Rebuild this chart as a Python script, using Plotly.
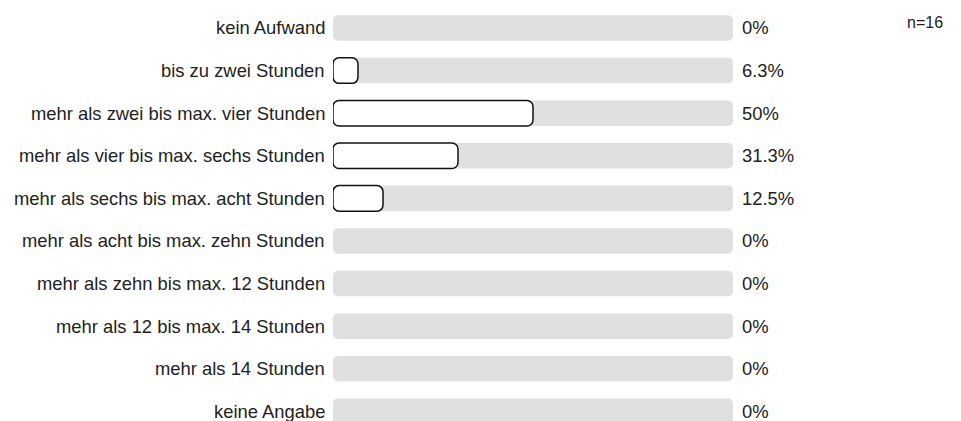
import plotly.graph_objects as go

categories = [
    "kein Aufwand",
    "bis zu zwei Stunden",
    "mehr als zwei bis max. vier Stunden",
    "mehr als vier bis max. sechs Stunden",
    "mehr als sechs bis max. acht Stunden",
    "mehr als acht bis max. zehn Stunden",
    "mehr als zehn bis max. 12 Stunden",
    "mehr als 12 bis max. 14 Stunden",
    "mehr als 14 Stunden",
    "keine Angabe",
]
percent_values = [0, 6.25, 50, 31.25, 12.5, 0, 0, 0, 0, 0]
percent_labels = ["0%", "6.3%", "50%", "31.3%", "12.5%", "0%", "0%", "0%", "0%", "0%"]
n_total = 16

FONT = "Liberation Sans, Arial, Helvetica, sans-serif"
ypos = list(range(len(categories)))
BAR_W = 0.6

full = [100] * len(categories)
vals = [v if v > 0 else None for v in percent_values]
zero_base = [0] * len(categories)

fig = go.Figure()
fig.add_trace(go.Bar(
    y=ypos, x=full, base=zero_base, orientation="h", width=BAR_W,
    marker=dict(color="#e0e0e0", line=dict(width=0), cornerradius=5),
    hoverinfo="skip", showlegend=False,
))
fig.add_trace(go.Bar(
    y=ypos, x=vals, base=zero_base, orientation="h", width=BAR_W,
    marker=dict(color="white", line=dict(color="#111111", width=1.5), cornerradius=6),
    hoverinfo="skip", showlegend=False,
))

annotations = []
for i, (cat, lab) in enumerate(zip(categories, percent_labels)):
    annotations.append(dict(x=0, y=i, xref="x", yref="y", text=cat, showarrow=False,
                            xanchor="right", xshift=-6, font=dict(size=18.4, color="#222", family=FONT)))
    annotations.append(dict(x=100, y=i, xref="x", yref="y", text=lab, showarrow=False,
                            xanchor="left", xshift=7, font=dict(size=18.4, color="#222", family=FONT)))
annotations.append(dict(x=1, y=1, xref="paper", yref="paper", text=f"n={n_total}", showarrow=False,
                        xanchor="right", yanchor="top", xshift=212, yshift=-4,
                        font=dict(size=16, color="#222", family=FONT)))

fig.update_layout(
    width=953, height=413,
    margin=dict(l=325, r=228, t=0, b=0),
    barmode="overlay",
    plot_bgcolor="white", paper_bgcolor="white",
    xaxis=dict(range=[0, 100], visible=False, fixedrange=True),
    yaxis=dict(range=[9.226, -0.469], visible=False, fixedrange=True),
    annotations=annotations,
    font=dict(family=FONT),
)
fig.write_html("out.html")
